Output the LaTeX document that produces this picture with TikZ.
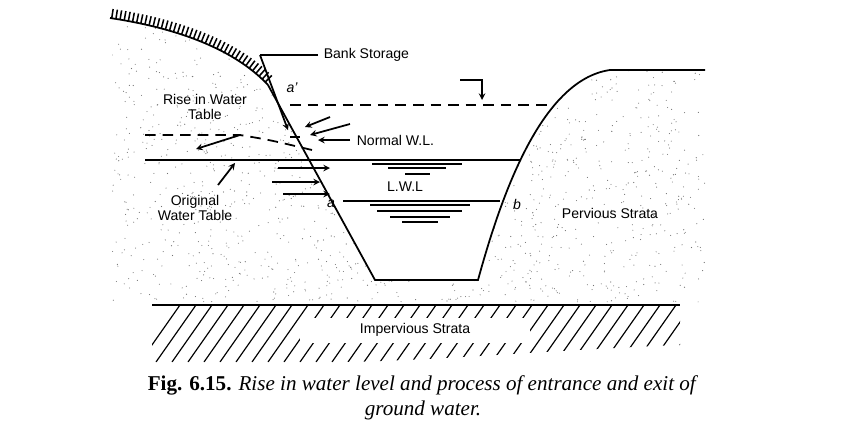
\documentclass[tikz,border=0pt]{standalone}
\usepackage{fontspec}
\setmainfont{Liberation Sans}
\newfontfamily\capfont{Liberation Serif}
\usetikzlibrary{decorations.markings}
\begin{document}
\begin{tikzpicture}[x=0.03cm,y=-0.03cm,line width=1.5pt,
	wl/.style={line width=1.5pt},
	flow/.style={line width=1.5pt,-stealth},
	lbl/.style={font=\fontsize{12}{13}\selectfont,align=center},
	ticks/.style={postaction={decorate,decoration={markings,
		mark=between positions 0.01 and 0.99 step 3.6pt with {\draw[line width=1.3pt] (0,0) -- (0,8pt);}}}}]
	\useasboundingbox (0,0) rectangle (847,440);
	% stippled soil
	\begin{scope}
		\clip (112,18) .. controls (190,30) and (240,55) .. (268,85) -- (375,280) -- (478,280)
			.. controls (500,200) and (540,80) .. (610,70) -- (705,70) -- (705,302) -- (112,302) -- cycle;
		\pgfmathsetseed{7}
		\foreach \i in {1,...,1800}
			\fill[black!55] ({112+rnd*593},{18+rnd*284}) circle (0.55);
	\end{scope}
	% ground surface
	\draw (110,18) .. controls (190,30) and (240,55) .. (268,85) -- (375,280) -- (478,280)
		.. controls (500,200) and (540,80) .. (610,70) -- (705,70);
	\path[ticks] (110,18) .. controls (190,30) and (240,55) .. (268,85);
	% water lines
	\draw[wl] (145,160) -- (520,160);
	\draw[wl] (343,201) -- (500,201);
	\draw[dash pattern=on 9pt off 6pt] (290,105) -- (555,105);
	\draw[dash pattern=on 9pt off 6pt] (145,135) -- (240,135) .. controls (270,140) .. (312,150);
	\draw (290,137) -- (300,137);
	\draw[-stealth] (460,80) -- (482,80) -- (482,100);
	\foreach \y/\a/\b in {164/372/462,168/388/446,174/405/430,205/370/470,211/377/462,217/390/450,222/402/438}
		\draw (\a,\y) -- (\b,\y);
	% bank storage and flows
	\draw (318,55) -- (260,55);
	\draw[flow] (260,55) -- (288,130);
	\node[lbl,anchor=west] (bank) at (319,55) {Bank Storage};
	\draw[flow] (330,117) -- (305,127);
	\draw[flow] (350,124) -- (310,135);
	\draw[flow] (350,140) -- (318,140);
	\node[lbl,anchor=west] (nwl) at (352,140) {Normal W.L.};
	\draw[flow] (240,135) -- (196,149);
	\foreach \y/\a/\b in {168/278/330,182/272/320,194/283/330}
		\draw[flow] (\a,\y) -- (\b,\y);
	\draw[flow] (218,185) -- (235,163);
	% labels
	\node[lbl] (rise) at (205,107) {Rise in Water\\Table};
	\node[lbl] (orig) at (195,208) {Original\\Water Table};
	\node[lbl] (lwl) at (405,187) {L.W.L};
	\node[lbl] (perv) at (610,213) {Pervious Strata};
	\node[lbl,font=\fontsize{12}{13}\selectfont\itshape] at (292,88) {a'};
	\node[lbl,font=\fontsize{12}{13}\selectfont\itshape] at (331,204) {a};
	\node[lbl,font=\fontsize{12}{13}\selectfont\itshape] at (517,204) {b};
	% impervious strata
	\draw (152,305) -- (680,305);
	\begin{scope}
		\clip (152,305) -- (680,305) -- (680,345) .. controls (550,350) and (420,362) .. (330,362) -- (152,362) -- cycle;
		\foreach \x in {140,156,...,720}
			\draw[line width=1pt] (\x,362) -- (\x+40,305);
	\end{scope}
	\fill[white] (300,318) rectangle (530,343);
	\node[lbl] (imp) at (415,330) {Impervious Strata};
	% caption
	\node[font=\capfont\fontsize{18}{21}\selectfont,align=center] (cap) at (423,398)
		{\textbf{Fig. 6.15.} \textit{Rise in water level and process of entrance and exit of}\\ \textit{ground water.}};
\end{tikzpicture}
\end{document}
